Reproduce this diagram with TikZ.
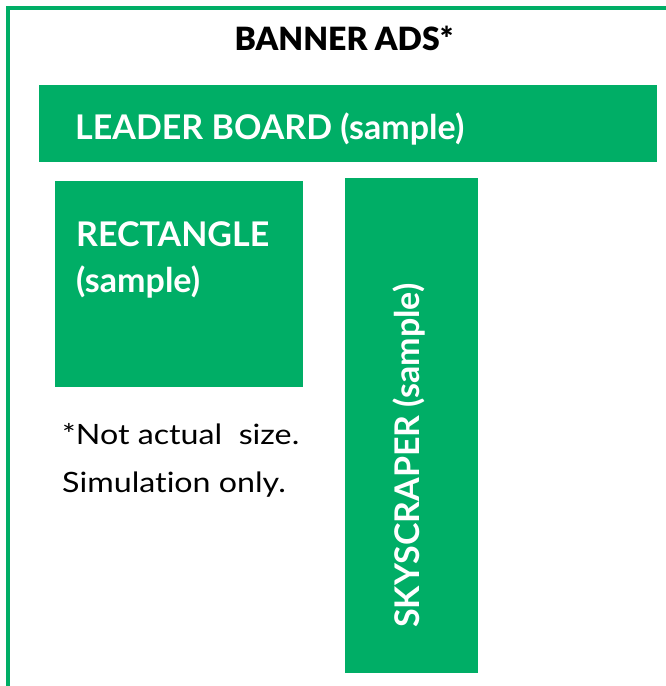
\documentclass[tikz,border=0pt]{standalone}
\usepackage{fontspec}
\setmainfont{Lato}[Ligatures=NoCommon]
\newfontfamily\heavyfont{Lato Black}
\definecolor{adgreen}{HTML}{00AE66}
\tikzset{
  adbox/.style={fill=adgreen, draw=none, inner sep=0pt, anchor=north west},
  adlabel/.style={text=white, font=\bfseries\fontsize{34}{40}\selectfont, inner sep=0pt},
  notetext/.style={font=\fontsize{28}{33}\selectfont, xscale=1.15, anchor=base west, inner sep=0pt},
}
\begin{document}
\begin{tikzpicture}[x=1pt,y=-1pt]
	\useasboundingbox (0,0) rectangle (665,686);
	% outer frame, open to the right and bottom
	\draw[adgreen, line width=3.5pt] (8,700) -- (8,8) -- (680,8);
	\node[font=\heavyfont\fontsize{32}{38}\selectfont, anchor=base] (title) at (344,50) {BANNER ADS*};
	% the three sample banners
	\node[adbox, minimum width=618pt, minimum height=77pt] (leader) at (39,85) {};
	\node[adbox, minimum width=248pt, minimum height=206pt] (rect) at (55,181) {};
	\node[adbox, minimum width=133pt, minimum height=495pt] (sky) at (345,178) {};
	\node[adlabel, anchor=base west] (leaderlbl) at (75,139) {LEADER BOARD (sample)};
	\node[adlabel, anchor=base west] (rectlbl) at (76,246) {RECTANGLE};
	\node[adlabel, anchor=base west] (rectsub) at (76,292) {(sample)};
	\node[adlabel, anchor=base west, rotate=90] (skylbl) at (419,628) {SKYSCRAPER (sample)};
	% footnote
	\node[notetext] (note1) at (62,444) {*Not actual\ \ size.};
	\node[notetext] (note2) at (62,492) {Simulation only.};
\end{tikzpicture}
\end{document}
